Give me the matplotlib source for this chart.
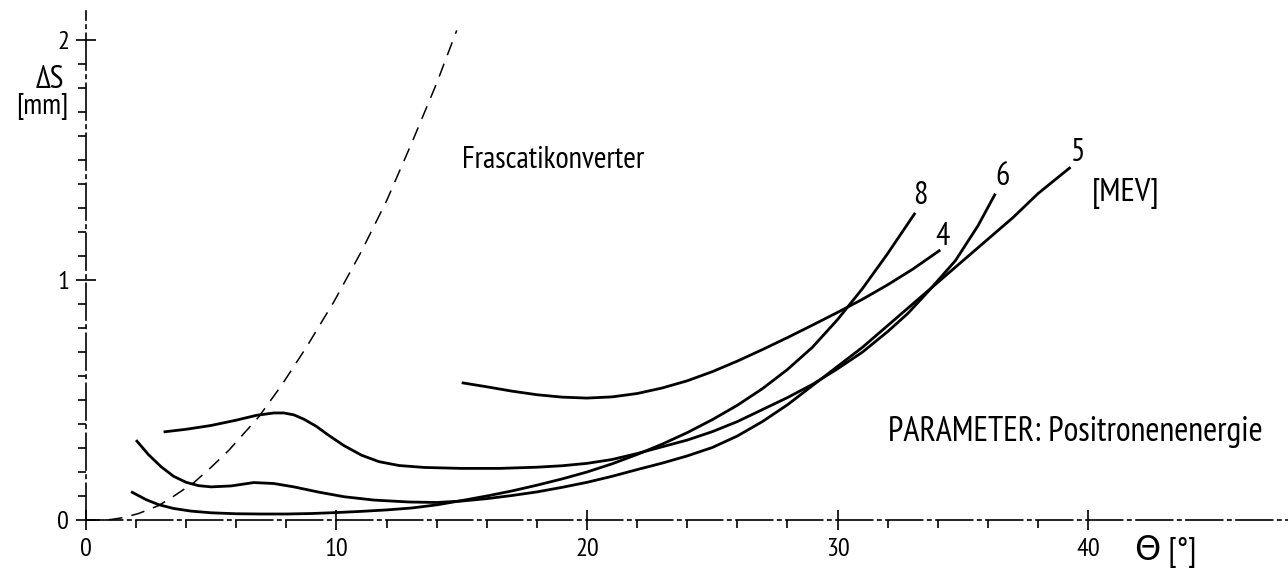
import matplotlib
matplotlib.use("Agg")
import matplotlib.pyplot as plt
from matplotlib.ticker import FixedLocator

plt.rcParams["font.family"] = ["PT Sans Narrow", "DejaVu Sans"]

# Frascati converter (dashed reference curve)
theta_f = [0.0, 0.5, 1.0, 1.5, 2.1, 2.9, 3.4, 4.3, 5.0, 5.7, 6.9, 7.8, 8.8, 9.9,
           11.0, 12.0, 13.0, 14.0, 14.8]
ds_f = [0.0, 0.0, 0.002, 0.01, 0.027, 0.06, 0.092, 0.155, 0.22, 0.29, 0.43, 0.56,
        0.72, 0.91, 1.12, 1.33, 1.57, 1.82, 2.04]

# positron energy 4 MeV
theta_4 = [15.0, 16.0, 17.0, 18.0, 19.0, 20.0, 21.0, 22.0, 23.0, 24.0, 25.0, 26.0,
           27.0, 28.0, 29.0, 30.0, 31.0, 32.0, 33.0, 34.1]
ds_4 = [0.572, 0.555, 0.537, 0.522, 0.512, 0.508, 0.513, 0.527, 0.55, 0.58, 0.618,
        0.662, 0.71, 0.76, 0.812, 0.865, 0.92, 0.98, 1.045, 1.125]

# 5 MeV
theta_5 = [2.0, 2.5, 3.0, 3.5, 4.0, 4.5, 5.0, 5.8, 6.7, 7.5, 8.3, 9.3, 10.3, 11.5,
           12.9, 14.0, 15.0, 16.0, 17.0, 18.0, 19.0, 20.0, 21.0, 22.0, 23.0, 24.0,
           25.0, 26.0, 27.0, 28.0, 29.0, 30.0, 31.0, 32.0, 33.0, 34.0, 35.0, 36.0,
           37.0, 38.0, 39.3]
ds_5 = [0.333, 0.272, 0.222, 0.182, 0.157, 0.143, 0.138, 0.142, 0.156, 0.152, 0.138,
        0.116, 0.097, 0.083, 0.075, 0.073, 0.079, 0.089, 0.102, 0.117, 0.136, 0.157,
        0.182, 0.21, 0.237, 0.267, 0.302, 0.35, 0.41, 0.48, 0.56, 0.64, 0.72, 0.81,
        0.90, 0.99, 1.08, 1.17, 1.26, 1.36, 1.47]

# 6 MeV
theta_6 = [3.1, 4.0, 5.0, 6.0, 6.8, 7.5, 7.9, 8.3, 8.7, 9.2, 9.7, 10.3, 11.0, 11.7,
           12.5, 13.5, 15.0, 16.5, 18.0, 19.0, 20.0, 21.0, 22.0, 23.0, 24.0, 25.0,
           26.0, 27.0, 28.0, 29.0, 30.0, 31.0, 32.0, 32.8, 33.6, 34.7, 35.6, 36.3]
ds_6 = [0.367, 0.378, 0.394, 0.416, 0.436, 0.446, 0.446, 0.438, 0.42, 0.39, 0.352,
        0.31, 0.27, 0.243, 0.227, 0.219, 0.215, 0.215, 0.22, 0.226, 0.236, 0.252,
        0.277, 0.305, 0.333, 0.368, 0.41, 0.46, 0.51, 0.565, 0.63, 0.70, 0.785, 0.86,
        0.95, 1.08, 1.225, 1.36]

# 8 MeV
theta_8 = [1.8, 2.4, 2.9, 3.5, 4.2, 5.0, 6.0, 7.0, 8.0, 9.0, 10.0, 11.0, 12.0, 13.0,
           14.0, 15.0, 16.0, 17.0, 18.0, 19.0, 20.0, 21.0, 22.0, 23.0, 24.0, 25.0,
           26.0, 27.0, 28.0, 29.0, 30.0, 31.0, 32.0, 33.1]
ds_8 = [0.118, 0.085, 0.064, 0.048, 0.037, 0.03, 0.026, 0.025, 0.025, 0.027, 0.031,
        0.036, 0.042, 0.05, 0.063, 0.081, 0.1, 0.121, 0.145, 0.171, 0.2, 0.234,
        0.273, 0.316, 0.364, 0.418, 0.478, 0.547, 0.627, 0.72, 0.835, 0.965, 1.11, 1.28]

x_major = [0, 10, 20, 30, 40]
x_minor = [2, 4, 6, 8, 12, 14, 16, 18, 22, 24, 26, 28, 32, 34, 36, 38]
y_major = [0, 1, 2]
y_minor = [0.1, 0.2, 0.3, 0.4, 0.5, 0.6, 0.7, 0.8, 0.9,
           1.1, 1.2, 1.3, 1.4, 1.5, 1.6, 1.7, 1.8, 1.9]

# curve end labels: (text, theta, ds)
curve_labels = [("8", 33.3, 1.35), ("4", 34.2, 1.18), ("6", 36.6, 1.43), ("5", 39.6, 1.53)]


fig = plt.figure(figsize=(12.88, 5.71), dpi=100)
ax = fig.add_axes([0, 0, 1, 1])
ax.set_xlim(-3.43, 47.98)
ax.set_ylim(-0.2125, 2.1667)

ax.plot(theta_f, ds_f, color="black", lw=1.1, linestyle=(0, (9, 6)))
for th, ds in [(theta_4, ds_4), (theta_5, ds_5), (theta_6, ds_6), (theta_8, ds_8)]:
    ax.plot(th, ds, color="black", lw=2.0, solid_capstyle="butt", solid_joinstyle="round")

# axes through the origin, drawn in the old plotter style
for side in ["top", "right"]:
    ax.spines[side].set_visible(False)
ax.spines["left"].set_position(("data", 0))
ax.spines["bottom"].set_position(("data", 0))
ax.spines["left"].set_bounds(0, 2.12)
ax.spines["bottom"].set_bounds(0, 48)
for side in ["left", "bottom"]:
    ax.spines[side].set_linewidth(1.2)
    ax.spines[side].set_linestyle((0, (22, 3, 2, 3)))

ax.xaxis.set_major_locator(FixedLocator(x_major))
ax.yaxis.set_major_locator(FixedLocator(y_major))
ax.xaxis.set_minor_locator(FixedLocator(x_minor))
ax.yaxis.set_minor_locator(FixedLocator(y_minor))
ax.tick_params(which="major", direction="inout", length=14, width=1.2)
ax.tick_params(which="minor", direction="out", length=6, width=1.2)
ax.tick_params(axis="x", which="major", pad=6, labelsize=19)
ax.tick_params(axis="y", which="major", pad=5, labelsize=19)
ax.patch.set_alpha(0)

ax.text(-1.44, 1.835, "ΔS", fontsize=23, ha="center", va="center")
ax.text(-1.75, 1.725, "[mm]", fontsize=21, ha="center", va="center")
ax.text(43.1, -0.133, "Θ [°]", fontsize=24, ha="center", va="center")
ax.text(15.0, 1.5, "Frascatikonverter", fontsize=22, ha="left", va="center")
ax.text(32.0, 0.367, "PARAMETER: Positronenenergie", fontsize=24.5, ha="left", va="center")
ax.text(41.5, 1.36, "[MEV]", fontsize=24, ha="center", va="center")
for txt, th, ds in curve_labels:
    ax.text(th, ds, txt, fontsize=23, ha="center", va="center")

plt.savefig("out.png", dpi=100)
plt.close()
